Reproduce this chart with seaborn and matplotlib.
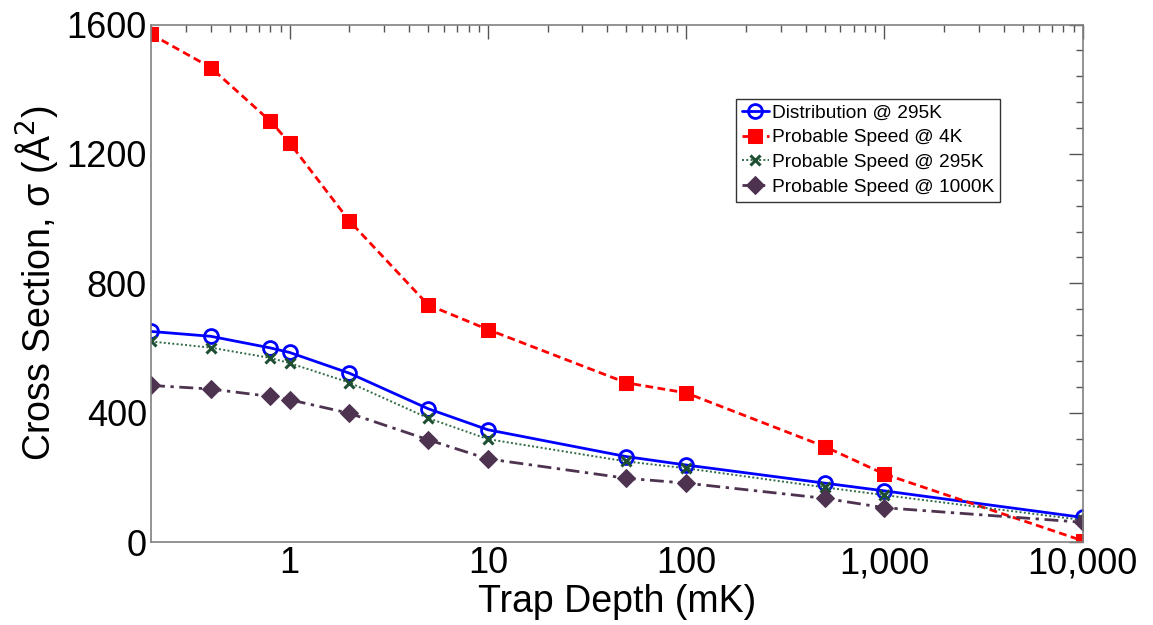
import numpy as np
import pandas as pd
import matplotlib
matplotlib.use("Agg")
import matplotlib.pyplot as plt
from matplotlib.ticker import FixedLocator, LogLocator, MultipleLocator, NullFormatter
import seaborn as sns

# Trap depth (mK) and cross sections (Å^2)
trap_depth = [0.2, 0.4, 0.8, 1, 2, 5, 10, 50, 100, 500, 1000, 10000]
dist_295k = [651, 636, 600, 586, 522, 412, 347, 264, 238, 182, 158, 76]
prob_4k = [1570, 1467, 1301, 1234, 993, 733, 657, 492, 461, 295, 210, 4]
prob_295k = [620, 601, 569, 553, 493, 383, 318, 249, 228, 169, 145, 68]
prob_1000k = [484, 473, 450, 440, 398, 316, 257, 197, 182, 135, 106, 61]

series_names = ["Distribution @ 295K", "Probable Speed @ 4K",
                "Probable Speed @ 295K", "Probable Speed @ 1000K"]
x_ticks = [1, 10, 100, 1000, 10000]
x_tick_labels = ["1", "10", "100", "1,000", "10,000"]
y_ticks = [0, 400, 800, 1200, 1600]

sns.set_theme(style="white")
plt.rcParams["font.family"] = ["Liberation Sans", "DejaVu Sans"]
plt.rcParams["text.color"] = "black"
plt.rcParams["axes.labelcolor"] = "black"

fig = plt.figure(figsize=(11.53, 6.25), dpi=100)
ax = fig.add_axes([0.131, 0.1328, 0.808, 0.828])

df = pd.DataFrame({"depth": trap_depth, "d295": dist_295k, "p4": prob_4k,
                   "p295": prob_295k, "p1000": prob_1000k})

common = dict(data=df, x="depth", ax=ax, estimator=None, sort=False)
sns.lineplot(y="d295", label=series_names[0], color="#0000FF", linewidth=2.0,
             linestyle="-", marker="o", markersize=10, markerfacecolor="none",
             markeredgecolor="#0000FF", markeredgewidth=2.0, **common)
sns.lineplot(y="p4", label=series_names[1], color="#FF0000", linewidth=2.0,
             linestyle=(0, (2.8, 1.6)), marker="s", markersize=10,
             markerfacecolor="#FF0000", markeredgecolor="#FF0000", **common)
sns.lineplot(y="p295", label=series_names[2], color="#2F6B45", linewidth=1.4,
             linestyle=(0, (1, 1.2)), marker="x", markersize=7,
             markeredgecolor="#1F4F33", markeredgewidth=2.2, **common)
sns.lineplot(y="p1000", label=series_names[3], color="#4E3350", linewidth=2.0,
             linestyle=(0, (5, 2, 1.2, 2)), marker="D", markersize=9,
             markerfacecolor="#4E3350", markeredgecolor="#4E3350", **common)

ax.set_xscale("log")
ax.set_xlim(0.2, 10000)
ax.set_ylim(0, 1600)
ax.xaxis.set_major_locator(FixedLocator(x_ticks))
ax.set_xticklabels(x_tick_labels)
ax.xaxis.set_minor_locator(LogLocator(base=10, subs=np.arange(2, 10)))
ax.xaxis.set_minor_formatter(NullFormatter())
ax.set_yticks(y_ticks)
ax.yaxis.set_minor_locator(MultipleLocator(80))

ax.tick_params(which="both", direction="in", top=True, right=True,
               colors="#555555", labelcolor="black", labelsize=26, pad=3)
ax.tick_params(which="major", length=10, width=1.0)
ax.tick_params(which="minor", length=5, width=1.0)
for s in ax.spines.values():
    s.set_color("#808080")
    s.set_linewidth(1.2)

ax.set_xlabel("Trap Depth (mK)", fontsize=27, labelpad=2)
ax.set_ylabel("Cross Section, σ (Å$^{2}$)", fontsize=27)
ax.yaxis.set_label_coords(-0.098, 0.5)

leg = ax.legend(loc="upper left", bbox_to_anchor=(0.628, 0.857), fontsize=13.8,
                frameon=True, fancybox=False, framealpha=1, edgecolor="#333333",
                handlelength=1.4, handletextpad=0.15, borderpad=0.3,
                labelspacing=0.38, borderaxespad=0)
leg.get_frame().set_linewidth(1.0)

fig.savefig("out.png", dpi=100)
